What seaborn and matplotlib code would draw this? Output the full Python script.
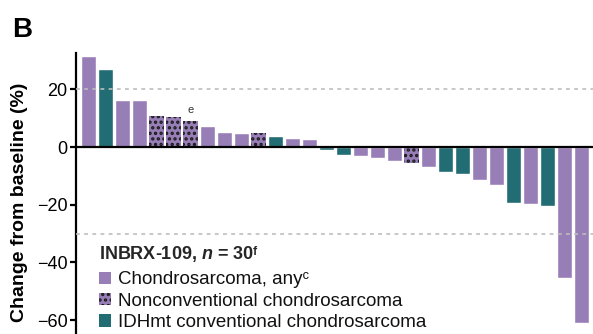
import numpy as np
import pandas as pd
import matplotlib
matplotlib.use("Agg")
import matplotlib.pyplot as plt
from matplotlib.patches import Patch
import seaborn as sns

# ---- data ----
values = [31.5, 27.0, 16.4, 16.4, 10.7, 10.4, 9.0, 7.3, 5.2, 4.9,
          4.9, 3.8, 3.1, 2.8, -1.0, -2.8, -3.0, -3.8, -4.9, -5.5,
          -6.9, -8.7, -9.4, -11.4, -13.2, -19.4, -19.8, -20.5, -45.4, -61.0]
groups = ["any", "idh", "any", "any", "nonconv", "nonconv", "nonconv", "any", "any", "any",
          "nonconv", "idh", "any", "any", "idh", "idh", "any", "any", "any", "nonconv",
          "any", "idh", "idh", "any", "any", "idh", "any", "idh", "any", "any"]
annot_index = 6
annot_text = "e"
ref_lines = [20, -30]
yticks = [-60, -40, -20, 0, 20]
legend_title = "INBRX-109, $\\mathbfit{n}$ = 30\u1da0"
legend_labels = ["Chondrosarcoma, any\u1d9c",
                 "Nonconventional chondrosarcoma",
                 "IDHmt conventional chondrosarcoma"]
ylabel = "Change from baseline (%)"
panel = "B"

PURPLE = "#987eb7"
TEAL = "#226c73"
colors = {"any": PURPLE, "nonconv": PURPLE, "idh": TEAL}

sns.set_theme(style="white")
plt.rcParams["font.family"] = ["Liberation Sans", "DejaVu Sans"]
plt.rcParams["mathtext.fontset"] = "custom"
plt.rcParams["mathtext.rm"] = "Liberation Sans"
plt.rcParams["mathtext.it"] = "Liberation Sans:italic"
plt.rcParams["mathtext.bf"] = "Liberation Sans:bold"
plt.rcParams["mathtext.bfit"] = "Liberation Sans:italic:bold"
plt.rcParams["hatch.linewidth"] = 1.6

df = pd.DataFrame({"pos": [str(i) for i in range(len(values))],
                   "value": values, "group": groups})
palette = {str(i): colors[g] for i, g in enumerate(groups)}

fig = plt.figure(figsize=(5.93, 3.34), dpi=100)
ax = fig.add_axes([76/593, 0.0, 1 - 76/593, 1 - 53/334])

sns.barplot(data=df, x="pos", y="value", hue="pos", palette=palette,
            legend=False, width=0.88, saturation=1, ax=ax, zorder=2)

for p in ax.patches:
    cx = p.get_x() + p.get_width() / 2
    i = int(round(cx))
    if 0 <= i < len(groups) and groups[i] == "nonconv":
        p.set_hatch("...")
        p.set_edgecolor("#1a1a1a")
        p.set_linewidth(0)

ax.set_xlim(-0.735, 29.68)
ax.set_ylim(-64.8, 32.6)
ax.set_yticks(yticks)
ax.set_xticks([])
ax.set_xlabel("")
ax.set_ylabel("")

for r in ref_lines:
    ax.axhline(r, color="#bdbdbd", lw=1.2, linestyle=(0, (2.3, 2.6)), zorder=4)
ax.axhline(0, color="black", lw=1.6, zorder=5)

ax.text(annot_index, values[annot_index] + 2.0, annot_text, ha="center", va="bottom",
        fontsize=8, color="#333333")

for s in ["top", "right", "bottom"]:
    ax.spines[s].set_visible(False)
ax.spines["left"].set_color("black")
ax.spines["left"].set_linewidth(1.6)
ax.tick_params(axis="y", which="both", left=True, length=4, width=1.6,
               color="black", labelsize=13, pad=2, labelcolor="black")

fig.text(19.5/593, 1 - 202/334, ylabel, rotation=90, ha="center", va="center",
         fontsize=14, fontweight="bold", color="black")
fig.text(12/593, 1 - 37/334, panel, ha="left", va="baseline",
         fontsize=20, fontweight="bold", color="black")

handles = [Patch(facecolor=PURPLE, edgecolor="none"),
           Patch(facecolor=PURPLE, edgecolor="#1a1a1a", linewidth=0, hatch="..."),
           Patch(facecolor=TEAL, edgecolor="none")]
leg = ax.legend(handles, legend_labels, title=legend_title, loc="upper left",
                bbox_to_anchor=(99/593, 1 - 244/334), bbox_transform=fig.transFigure,
                frameon=False, fontsize=13.5, title_fontsize=13, handlelength=0.64,
                handleheight=0.64, handletextpad=0.37, labelspacing=0.23,
                borderpad=0.0, borderaxespad=0.0, alignment="left")
leg.get_title().set_fontweight("bold")
leg._legend_box.sep = 5.4
for t in leg.get_texts():
    t.set_color("#111111")

fig.savefig("out.png", dpi=100)
